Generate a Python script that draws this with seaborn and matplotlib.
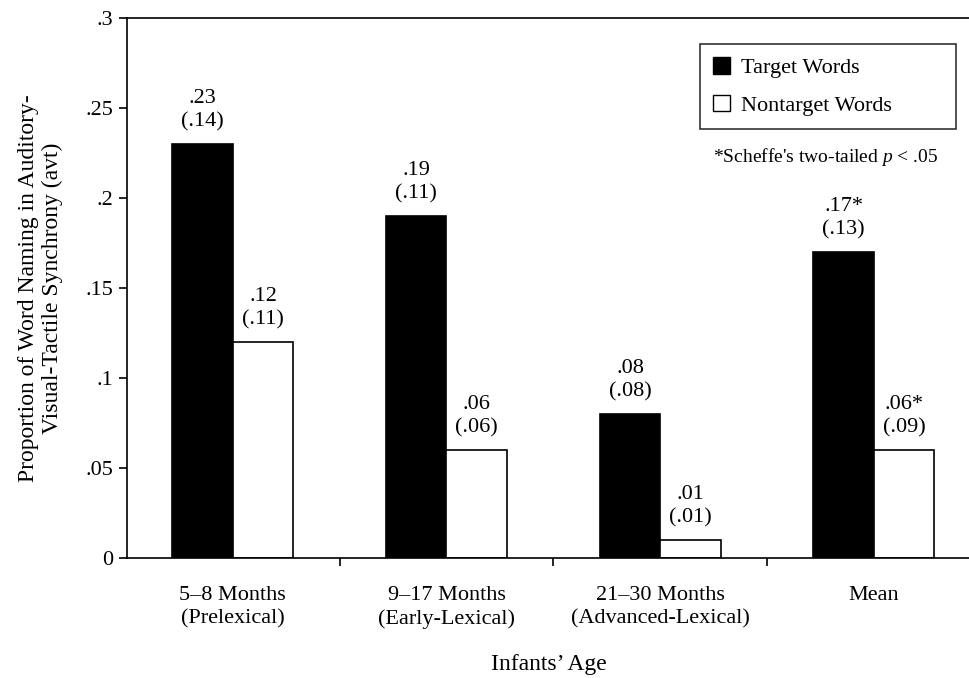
import pandas as pd
import seaborn as sns
import matplotlib.pyplot as plt
from matplotlib.ticker import FixedLocator
from matplotlib.patches import Patch

# dati
ages = ['5–8 Months\n(Prelexical)', '9–17 Months\n(Early-Lexical)',
        '21–30 Months\n(Advanced-Lexical)', 'Mean']
target = [.23, .19, .08, .17]
target_sd = [.14, .11, .08, .13]
nontarget = [.12, .06, .01, .06]
nontarget_sd = [.11, .06, .01, .09]
target_lbl = ['.23', '.19', '.08', '.17*']
target_sd_lbl = ['(.14)', '(.11)', '(.08)', '(.13)']
nontarget_lbl = ['.12', '.06', '.01', '.06*']
nontarget_sd_lbl = ['(.11)', '(.06)', '(.01)', '(.09)']
yticks = [0, .05, .1, .15, .2, .25, .3]
yticklabels = ['0', '.05', '.1', '.15', '.2', '.25', '.3']

df = pd.DataFrame({
    'age': ages * 2,
    'value': target + nontarget,
    'words': ['Target Words'] * 4 + ['Nontarget Words'] * 4,
})

sns.set_style('white')
plt.rcParams['font.family'] = ['Liberation Serif', 'DejaVu Serif']
plt.rcParams['mathtext.fontset'] = 'custom'
plt.rcParams['mathtext.rm'] = 'Liberation Serif'
plt.rcParams['mathtext.it'] = 'Liberation Serif:italic'
for k in ['text.color', 'axes.labelcolor', 'xtick.color', 'ytick.color']:
    plt.rcParams[k] = 'black'

fig = plt.figure(figsize=(9.7, 6.78), dpi=100)
ax = fig.add_axes([127 / 970, 120 / 678, 1 - 127 / 970, 540 / 678])

sns.barplot(data=df, x='age', y='value', hue='words', ax=ax,
            palette={'Target Words': 'black', 'Nontarget Words': 'white'},
            edgecolor='black', linewidth=1.2, width=0.565, legend=False)

# etichette sopra le barre
for cont, vals, lbl, sd in zip(ax.containers, [target, nontarget],
                               [target_lbl, nontarget_lbl],
                               [target_sd_lbl, nontarget_sd_lbl]):
    for bar, v, a, b in zip(cont, vals, lbl, sd):
        x = bar.get_x() + bar.get_width() / 2
        ax.annotate(a + '\n' + b, (x, v), xytext=(0, 9), textcoords='offset points',
                    ha='center', va='bottom', fontsize=16, linespacing=1.3)

ax.set_xlim(-0.495, 3.45)
ax.set_ylim(0, 0.3)
ax.set_yticks(yticks)
ax.set_yticklabels(yticklabels, fontsize=16)
ax.tick_params(axis='y', direction='out', length=6, width=1.2, left=True, pad=4)
ax.tick_params(axis='x', which='major', length=0, labelsize=16, pad=20)
ax.xaxis.set_minor_locator(FixedLocator([0.5, 1.5, 2.5]))
ax.tick_params(axis='x', which='minor', direction='out', length=6, width=1.2, bottom=True)
for t in ax.get_xticklabels():
    t.set_linespacing(1.3)

for s in ['left', 'bottom', 'top']:
    ax.spines[s].set_linewidth(1.2)
    ax.spines[s].set_color('black')
ax.spines['right'].set_visible(False)

ax.set_xlabel("Infants’ Age", fontsize=17, labelpad=18)
ax.set_ylabel('Proportion of Word Naming in Auditory-\nVisual-Tactile Synchrony (avt)',
              fontsize=17, labelpad=16, linespacing=1.2)

handles = [Patch(facecolor='black', edgecolor='black', label='Target Words'),
           Patch(facecolor='white', edgecolor='black', label='Nontarget Words')]
leg = ax.legend(handles=handles, loc='upper left',
                bbox_to_anchor=(700 / 970, 1 - 44 / 678 - 0.01, 256 / 970, 0.01), mode='expand',
                bbox_transform=fig.transFigure, fontsize=16, frameon=True, fancybox=False,
                edgecolor='black', handlelength=0.75, handleheight=0.75, borderpad=0.6,
                labelspacing=0.75, handletextpad=0.5, borderaxespad=0)
leg.get_frame().set_linewidth(1.2)

fig.text(826 / 970, 1 - 157 / 678, "*Scheffe's two-tailed $p$ < .05", ha='center', va='center',
         fontsize=14)

fig.savefig('out.png', dpi=100)
